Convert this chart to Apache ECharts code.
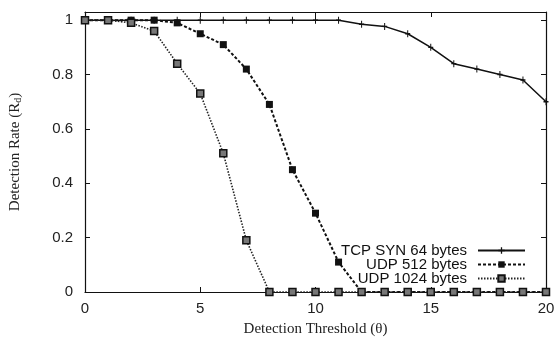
<!DOCTYPE html>
<html>
<head>
<meta charset="utf-8">
<script src="https://cdn.jsdelivr.net/npm/echarts@6/dist/echarts.min.js"></script>
<style>html,body{margin:0;padding:0;background:#fff}#c{width:558px;height:337px}</style>
</head>
<body>
<div id="c"></div>
<script>
const thresholds = [0,1,2,3,4,5,6,7,8,9,10,11,12,13,14,15,16,17,18,19,20];
const tcpSyn64 = [1,1,1,1,1,1,1,1,1,1,1,1,0.985,0.977,0.95,0.90,0.84,0.82,0.80,0.78,0.70];
const udp512 = [1,1,1,1,0.99,0.95,0.91,0.82,0.69,0.45,0.29,0.11,0,0,0,0,0,0,0,0,0];
const udp1024 = [1,1,0.99,0.96,0.84,0.73,0.51,0.19,0,0,0,0,0,0,0,0,0,0,0,0,0];
const seriesNames = ['TCP SYN 64 bytes','UDP 512 bytes','UDP 1024 bytes'];
const xTitle = 'Detection Threshold (\u03b8)';

const pairs = ys => thresholds.map((x,i)=>[x, ys[i]]);
const ink = '#111';
const axisFont = {fontFamily:'Liberation Sans', fontSize:15, color:'#222'};
const plus = 'path://M2,0H3V2H5V3H3V5H2V3H0V2H2Z';
const frameLine = {show:true, onZero:false, lineStyle:{color:ink, width:1.2}};

const chart = echarts.init(document.getElementById('c'), null, {renderer:'canvas'});
chart.setOption({
  animation:false,
  backgroundColor:'#fff',
  grid:{left:85, right:12, top:12, bottom:45, outerBoundsMode:'none', containLabel:false},
  xAxis:[{
    type:'value', min:0, max:20, interval:5,
    name:xTitle, nameLocation:'middle', nameGap:30,
    nameTextStyle:{fontFamily:'Liberation Serif', fontSize:15, color:'#222'},
    axisLine:frameLine,
    axisTick:{show:true, inside:true, length:5, lineStyle:{color:ink}},
    axisLabel:Object.assign({margin:9}, axisFont),
    splitLine:{show:false}
  },{
    type:'value', min:0, max:20, interval:5, position:'top',
    axisLine:frameLine,
    axisTick:{show:true, inside:true, length:5, lineStyle:{color:ink}},
    axisLabel:{show:false}, splitLine:{show:false}
  }],
  yAxis:[{
    type:'value', min:0, max:1.03, interval:0.2,
    name:'Detection Rate (R{sub|d})', nameLocation:'middle', nameGap:62,
    nameTextStyle:{fontFamily:'Liberation Serif', fontSize:15, color:'#222',
      rich:{sub:{fontFamily:'Liberation Serif', fontSize:10, color:'#222', verticalAlign:'bottom', padding:[6,0,0,0]}}},
    axisLine:frameLine,
    axisTick:{show:true, inside:true, length:5, lineStyle:{color:ink}},
    axisLabel:Object.assign({margin:12, showMaxLabel:false,
      formatter:v=>{const r=Math.round(v*5)/5; return Math.abs(r-v)<1e-6 ? String(+r.toFixed(1)) : '';}}, axisFont),
    splitLine:{show:false}
  },{
    type:'value', min:0, max:1.03, interval:0.2, position:'right',
    axisLine:frameLine,
    axisTick:{show:true, inside:true, length:5, lineStyle:{color:ink}},
    axisLabel:{show:false}, splitLine:{show:false}
  }],
  legend:{
    orient:'vertical', align:'right', right:27, top:238,
    itemWidth:47, itemHeight:8, itemGap:-1,
    textStyle:{fontFamily:'Liberation Sans', fontSize:15, color:'#111', lineHeight:12, padding:[0,6,0,0]},
    data:seriesNames
  },
  series:[
    {name:seriesNames[0], type:'line', data:pairs(tcpSyn64), symbol:plus, symbolSize:[5,7],
     lineStyle:{color:ink, width:1.5, type:'solid'}, itemStyle:{color:ink}, z:3},
    {name:seriesNames[1], type:'line', data:pairs(udp512), symbol:'rect', symbolSize:7,
     lineStyle:{color:ink, width:2, type:[3,2]}, itemStyle:{color:ink}, z:4},
    {name:seriesNames[2], type:'line', data:pairs(udp1024), symbol:'rect', symbolSize:7,
     lineStyle:{color:'#222', width:1.6, type:[1.5,1.5]}, itemStyle:{color:'#777', borderColor:ink, borderWidth:1.5}, z:5}
  ]
});
</script>
</body>
</html>
